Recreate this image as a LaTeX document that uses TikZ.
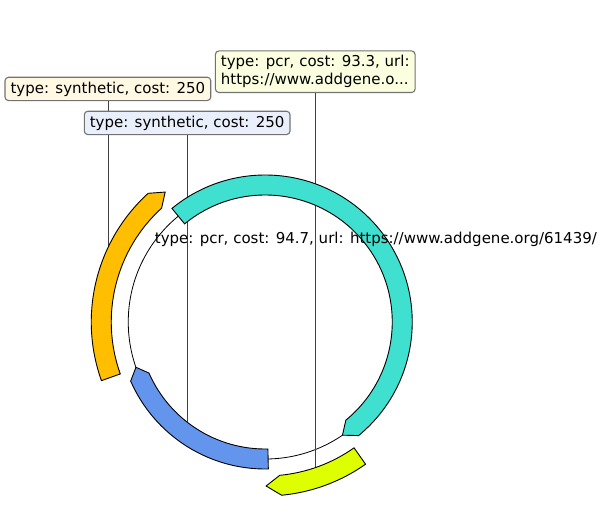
\documentclass[tikz,border=0pt]{standalone}
\usepackage{fontspec}
\setmainfont{DejaVu Sans}
\usetikzlibrary{calc}

\definecolor{featTeal}{HTML}{40E0D0}
\definecolor{featOrange}{HTML}{FFBE00}
\definecolor{featBlue}{HTML}{6495ED}
\definecolor{featLime}{HTML}{DDFF00}
\colorlet{boxOrange}{featOrange!11!white}
\colorlet{boxBlue}{featBlue!14!white}
\colorlet{boxLime}{featLime!12!white}

\newcommand{\lblfont}{\fontsize{15}{18.2}\selectfont}

\pgfdeclarelayer{bg}
\pgfdeclarelayer{mid}
\pgfsetlayers{bg,mid,main}

\begin{document}
\begin{tikzpicture}[x=1pt,y=1pt,
  feature/.style={draw=black, line width=0.9pt, line join=miter},
  labelbox/.style={draw=black!55, line width=1.1pt, rounded corners=3.5pt,
    inner xsep=5.5pt, inner ysep=4.4pt, font=\lblfont, text=black},
  leader/.style={draw=black!75, line width=0.6pt},
  backbone/.style={draw=black, line width=0.8pt}]
\useasboundingbox (0,0) rectangle (609,-525);

% plasmid centre; backbone radius 137, second track at 164
\coordinate (C) at (265.25,-322);

% anchor points at the middle of each feature
\coordinate (tealMid)   at ($(C)+(36.85:137)$);
\coordinate (orangeMid) at ($(C)+(-196.35:164)$);
\coordinate (blueMid)   at ($(C)+(-124.75:137)$);
\coordinate (limeMid)   at ($(C)+(-72.25:164)$);

% label boxes
\node[labelbox, fill=boxOrange] (lblOrange) at (orangeMid |- 0,-88.9)
  {type: synthetic, cost: 250};
\node[labelbox, fill=boxBlue] (lblBlue) at (blueMid |- 0,-122.9)
  {type: synthetic, cost: 250};
\node[labelbox, fill=boxLime, align=left] (lblLime) at (limeMid |- 0,-71.7)
  {type: pcr, cost: 93.3, url:\\https://www.addgene.o...};

% inline label of the long feature
\node[font=\lblfont, inner sep=0pt] (lblTeal) at ([xshift=1pt]tealMid)
  {type: pcr, cost: 94.7, url: https://www.addgene.org/61439/};

\begin{pgfonlayer}{bg}
  \draw[backbone] (C) circle[radius=137];
  \draw[leader] (lblOrange.south) -- (orangeMid);
  \draw[leader] (lblBlue.south) -- (blueMid);
  \draw[leader] (lblLime.south) -- (limeMid);
\end{pgfonlayer}

\begin{pgfonlayer}{mid}
  % teal feature, forward strand
  \filldraw[feature, fill=featTeal]
    ($(C)+(129.4:147)$) arc[start angle=129.4, end angle=-50.6, radius=147]
    -- ($(C)+(-55.7:137)$) -- ($(C)+(-50.6:127)$)
    arc[start angle=-50.6, end angle=129.4, radius=127] -- cycle;
  % orange feature, forward strand, outer track
  \filldraw[feature, fill=featOrange]
    ($(C)+(-160.3:174)$) arc[start angle=-160.3, end angle=-227.7, radius=174]
    -- ($(C)+(-232.4:164)$) -- ($(C)+(-227.7:154)$)
    arc[start angle=-227.7, end angle=-160.3, radius=154] -- cycle;
  % lime feature, forward strand, outer track
  \filldraw[feature, fill=featLime]
    ($(C)+(-54.8:174)$) arc[start angle=-54.8, end angle=-84.6, radius=174]
    -- ($(C)+(-89.7:164)$) -- ($(C)+(-84.6:154)$)
    arc[start angle=-84.6, end angle=-54.8, radius=154] -- cycle;
  % blue feature, reverse strand
  \filldraw[feature, fill=featBlue]
    ($(C)+(-160.7:137)$) -- ($(C)+(-156.3:147)$)
    arc[start angle=-156.3, end angle=-88.8, radius=147]
    -- ($(C)+(-88.8:127)$)
    arc[start angle=-88.8, end angle=-156.3, radius=127] -- cycle;
\end{pgfonlayer}
\end{tikzpicture}
\end{document}
